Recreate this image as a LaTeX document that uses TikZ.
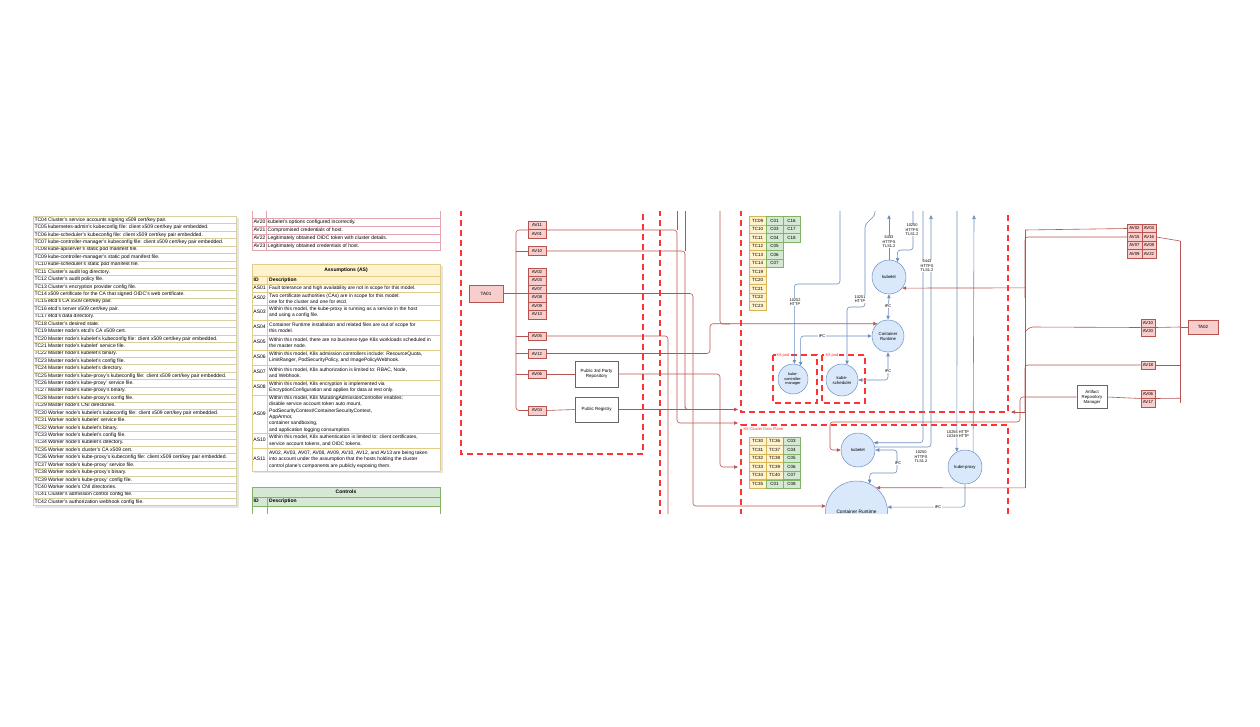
\documentclass[tikz,border=0pt]{standalone}
\usepackage{fontspec}
\setmainfont{Liberation Sans}
\usetikzlibrary{arrows.meta}
\definecolor{rfill}{HTML}{F8CECC}
\definecolor{rdraw}{HTML}{B85450}
\definecolor{bfill}{HTML}{DAE8FC}
\definecolor{bdraw}{HTML}{6C8EBF}
\definecolor{yfill}{HTML}{FFF2CC}
\definecolor{ydraw}{HTML}{D6B656}
\definecolor{gfill}{HTML}{D5E8D4}
\definecolor{gdraw}{HTML}{82B366}
\definecolor{dashred}{HTML}{FF3333}
\definecolor{tline}{HTML}{D8D0A0}
\definecolor{avline}{HTML}{E3A6AE}
\pgfdeclarelayer{bg}
\pgfdeclarelayer{fg}
\pgfsetlayers{bg,main,fg}
\begin{document}
\begin{tikzpicture}[x=1pt,y=-1pt,
  every node/.style={inner sep=0pt},
  tt/.style={anchor=west, font=\fontsize{5.05}{6}\selectfont, text height=3.6pt, text depth=1pt},
  ast/.style={anchor=west, align=left, font=\fontsize{4.95}{6.3}\selectfont},
  hd/.style={font=\bfseries\fontsize{5}{6}\selectfont, text height=3.6pt, text depth=1pt},
  avbox/.style={draw=rdraw, fill=rfill, line width=0.5pt, minimum width=18pt, minimum height=8.5pt, font=\fontsize{4.3}{5}\selectfont},
  avsq/.style={avbox, minimum width=14.5pt},
  tcbox/.style={draw=ydraw, fill=yfill, line width=0.4pt, minimum width=17pt, minimum height=8.5pt, font=\fontsize{4.5}{5}\selectfont},
  ccbox/.style={draw=gdraw, fill=gfill, line width=0.4pt, minimum width=17pt, minimum height=8.5pt, font=\fontsize{4.5}{5}\selectfont},
  comp/.style={circle, draw=bdraw, fill=bfill, line width=0.5pt, align=center, font=\fontsize{4.3}{5}\selectfont},
  gbox/.style={draw=black!60, fill=white, line width=0.6pt, align=center, font=\fontsize{4.5}{5.5}\selectfont, minimum width=43pt},
  wire/.style={draw=rdraw, line width=0.6pt, rounded corners=3pt},
  bwire/.style={draw=bdraw, line width=0.6pt, rounded corners=3pt},
  tip/.style={-{Triangle[length=4pt,width=3.4pt]}},
  tips/.style={{Triangle[length=4pt,width=3.4pt]}-{Triangle[length=4pt,width=3.4pt]}},
  bnd/.style={draw=dashred, line width=2pt, dash pattern=on 6pt off 4pt},
  elab/.style={fill=white, align=center, font=\fontsize{3.9}{4.4}\selectfont, inner sep=0.4pt},
  redlab/.style={text=dashred, fill=white, font=\fontsize{4}{4.6}\selectfont, inner sep=0.5pt}
]
\useasboundingbox (0,0) rectangle (1260,727);

% ================= left table =================
\fill[black!10] (236,218) rectangle (238.5,507.8);
\fill[black!10] (35,505.6) rectangle (238.5,507.8);
\fill[white] (33,216.3) rectangle (236,505.6);
\foreach \id/\txt [count=\i from 0] in {
 TC04/{Cluster's service accounts signing x509 cert/key pair.},
 TC05/{kubernetes-admin's kubeconfig file: client x509 cert/key pair embedded.},
 TC06/{kube-scheduler's kubeconfig file: client x509 cert/key pair embedded.},
 TC07/{kube-controller-manager's kubeconfig file: client x509 cert/key pair embedded.},
 TC08/{kube-apiserver's static pod manifest file.},
 TC09/{kube-controller-manager's static pod manifest file.},
 TC10/{kube-scheduler's static pod manifest file.},
 TC11/{Cluster's audit log directory.},
 TC12/{Cluster's audit policy file.},
 TC13/{Cluster's encryption provider config file.},
 TC14/{x509 certificate for the CA that signed OIDC's web certificate.},
 TC15/{etcd's CA x509 cert/key pair.},
 TC16/{etcd's server x509 cert/key pair.},
 TC17/{etcd's data directory.},
 TC18/{Cluster's desired state.},
 TC19/{Master node's etcd's CA x509 cert.},
 TC20/{Master node's kubelet's kubeconfig file: client x509 cert/key pair embedded.},
 TC21/{Master node's kubelet' service file.},
 TC22/{Master node's kubelet's binary.},
 TC23/{Master node's kubelet's config file.},
 TC24/{Master node's kubelet's directory.},
 TC25/{Master node's kube-proxy's kubeconfig file: client x509 cert/key pair embedded.},
 TC26/{Master node's kube-proxy' service file.},
 TC27/{Master node's kube-proxy's binary.},
 TC28/{Master node's kube-proxy's config file.},
 TC29/{Master node's CNI directories.},
 TC30/{Worker node's kubelet's kubeconfig file: client x509 cert/key pair embedded.},
 TC31/{Worker node's kubelet' service file.},
 TC32/{Worker node's kubelet's binary.},
 TC33/{Worker node's kubelet's config file.},
 TC34/{Worker node's kubelet's directory.},
 TC35/{Worker node's cluster's CA x509 cert.},
 TC36/{Worker node's kube-proxy's kubeconfig file: client x509 cert/key pair embedded.},
 TC37/{Worker node's kube-proxy' service file.},
 TC38/{Worker node's kube-proxy's binary.},
 TC39/{Worker node's kube-proxy' config file.},
 TC40/{Worker node's CNI directories.},
 TC41/{Cluster's admission control config file.},
 TC42/{Cluster's authorization webhook config file.}}{
  \node[tt] (L\id) at (34.3,{220+7.42*\i}) {\id};
  \node[tt] (LD\id) at (47.8,{220+7.42*\i}) {\txt};
  \draw[tline, line width=0.5pt] (33,{216.3+7.42*\i}) -- (236,{216.3+7.42*\i});
}
\draw[tline, line width=0.5pt] (33,505.6) -- (236,505.6);
\draw[tline, line width=0.6pt] (33,216.3) -- (33,505.6) (236,216.3) -- (236,505.6);

% ================= AV table (middle top) =================
\fill[white] (252,211) rectangle (440,250.7);
\foreach \id/\txt [count=\i from 0] in {
 AV20/{kubelet's options configured incorrectly.},
 AV21/{Compromised credentials of host.},
 AV22/{Legitimately obtained OIDC token with cluster details.},
 AV23/{Legitimately obtained credentials of host.}}{
  \node[tt] (M\id) at (253.3,{222+8.2*\i}) {\id};
  \node[tt] (MD\id) at (267.5,{222+8.2*\i}) {\txt};
  \draw[avline, line width=0.5pt] (252,{226.1+8.2*\i}) -- (440,{226.1+8.2*\i});
}
\draw[avline, line width=0.5pt] (252,217.9) -- (440,217.9);
\draw[avline, line width=0.6pt] (252,211) -- (252,250.7) (440,211) -- (440,250.7) (266.2,211) -- (266.2,250.7);

% ================= Assumptions table =================
\fill[black!10] (440,266) rectangle (442.5,473);
\fill[black!10] (254,471) rectangle (442.5,473);
\fill[yfill] (252,264) rectangle (440,284);
\fill[white] (252,284) rectangle (440,471);
\foreach \yy in {264,276,284,292,305,320,335,350,365,380,395,433,448,471}
  \draw[ydraw!70, line width=0.5pt] (252,\yy) -- (440,\yy);
\draw[ydraw!70, line width=0.6pt] (252,264) -- (252,471) (440,264) -- (440,471) (267,276) -- (267,471);
\node[hd] (ashead) at (346,270) {Assumptions (AS)};
\node[hd, anchor=west] (asid) at (253.5,280) {ID};
\node[hd, anchor=west] (asdesc) at (269,280) {Description};
\foreach \id/\yy/\txt in {
 AS01/288/{Fault tolerance and high availability are not in scope for this model.},
 AS02/298.5/{Two certificate authorities (CAs) are in scope for this model:\\one for the cluster and one for etcd.},
 AS03/312.5/{Within this model, the kube-proxy is running as a service in the host\\and using a config file.},
 AS04/327.5/{Container Runtime installation and related files are out of scope for\\this model.},
 AS05/342.5/{Within this model, there are no business-type K8s workloads scheduled in\\the master node.},
 AS06/357.5/{Within this model, K8s admission controllers include: ResourceQuota,\\LimitRanger, PodSecurityPolicy, and ImagePolicyWebhook.},
 AS07/372.5/{Within this model, K8s authorization is limited to: RBAC, Node,\\and Webhook.},
 AS08/387.5/{Within this model, K8s encryption is implemented via\\EncryptionConfiguration and applies for data at rest only.},
 AS09/414/{Within this model, K8s MutatingAdmissionController enables:\\disable service account token auto mount,\\PodSecurityContext/ContainerSecurityContext,\\AppArmor,\\container sandboxing,\\and application logging consumption.},
 AS10/440.5/{Within this model, K8s authentication is limited to: client certificates,\\service account tokens, and OIDC tokens.},
 AS11/459.5/{AV02, AV03, AV07, AV08, AV09, AV10, AV12, and AV13 are being taken\\into account under the assumption that the hosts holding the cluster\\control plane's components are publicly exposing them.}}{
  \node[tt] (\id) at (253.2,\yy) {\id};
  \node[ast] (D\id) at (269,\yy) {\txt};
}

% ================= Controls table =================
\fill[gfill] (252,487) rectangle (440,506);
\fill[white] (252,506) rectangle (440,515);
\foreach \yy in {487,497,506}
  \draw[gdraw, line width=0.5pt] (252,\yy) -- (440,\yy);
\draw[gdraw, line width=0.6pt] (252,487) -- (252,515) (440,487) -- (440,515) (267,497) -- (267,515);
\node[hd] (chead) at (346,492) {Controls};
\node[hd, anchor=west] (cid) at (253.5,501.5) {ID};
\node[hd, anchor=west] (cdesc) at (269,501.5) {Description};

% ================= Diagram: nodes =================
\node[avbox, minimum width=34pt, minimum height=17pt, font=\fontsize{4.6}{5}\selectfont] (ta1) at (486,293.5) {TA01};
\node[avbox] (av11) at (537,225.5) {AV11};
\node[avbox] (av01) at (537,234) {AV01};
\node[avbox] (av10) at (537,251) {AV10};
\foreach \n [count=\k from 0] in {AV02,AV03,AV07,AV08,AV09,AV13}
  \node[avbox] (l\n) at (537,{272+8.5*\k}) {\n};
\node[avbox] (av05) at (537,336) {AV05};
\node[avbox] (av12) at (537,353.5) {AV12};
\node[avbox] (av06) at (537,374) {AV06};
\node[avbox] (av04) at (537,410.5) {AV04};
\node[gbox, minimum height=26pt] (p3) at (596.5,374) {Public 3rd Party\\Repository};
\node[gbox, minimum height=25pt] (preg) at (596.5,409.5) {Public Registry};

% TC / C tables (control plane)
\foreach \a [count=\k from 0] in {TC09,TC10,TC11,TC12,TC13,TC14,TC19,TC20,TC21,TC22,TC23}
  \node[tcbox] (u\a) at (757.5,{220.7+8.5*\k}) {\a};
\foreach \b [count=\k from 0] in {C01,C03,C04,C05,C06,C07}
  \node[ccbox] (u\b) at (774.5,{220.7+8.5*\k}) {\b};
\foreach \c [count=\k from 0] in {C16,C17,C18}
  \node[ccbox] (u\c) at (791.5,{220.7+8.5*\k}) {\c};
% data plane
\foreach \a/\b/\c [count=\k from 0] in {TC30/TC36/C03,TC31/TC37/C04,TC32/TC38/C05,TC33/TC39/C06,TC34/TC40/C07}{
  \node[tcbox] (w\a) at (757.5,{441+8.6*\k}) {\a};
  \node[tcbox] (w\b) at (774.5,{441+8.6*\k}) {\b};
  \node[ccbox] (w\c) at (791.5,{441+8.6*\k}) {\c};
}
\node[tcbox] (wTC35) at (757.5,484) {TC35};
\node[ccbox] (wC01) at (774.5,484) {C01};
\node[ccbox] (wC08) at (791.5,484) {C08};

% components
\node[comp, minimum size=34pt] (k1) at (889,277) {kubelet};
\node[comp, minimum size=32pt] (cr1) at (888,336) {Container\\Runtime};
\node[comp, minimum size=30pt, font=\fontsize{3.9}{4.6}\selectfont] (kcm) at (793,379) {kube-\\controller-\\manager};
\node[comp, minimum size=32pt] (ks) at (842,380) {kube-\\scheduler};
\node[comp, minimum size=34pt] (k2) at (858,450) {kubelet};
\node[comp, minimum size=34pt] (kp) at (965,467) {kube-proxy};
\node[comp, minimum size=62pt, font=\fontsize{4.8}{5.5}\selectfont] (cr2) at (856.5,512) {Container Runtime};

% right side
\node[avbox, minimum width=30pt, minimum height=14pt, font=\fontsize{4.5}{5}\selectfont] (ta2) at (1203,327) {TA02};
\foreach \a/\b [count=\k from 0] in {AV02/AV03,AV15/AV16,AV07/AV08,AV09/AV22}{
  \node[avsq] (r\a) at (1134.5,{228.5+8.5*\k}) {\a};
  \node[avsq] (r\b) at (1149,{228.5+8.5*\k}) {\b};
}
\node[avsq] (rAV10) at (1148,323) {AV10};
\node[avsq] (rAV20) at (1148,331.5) {AV20};
\node[avsq] (rAV18) at (1148,365) {AV18};
\node[gbox, minimum width=30pt, minimum height=23pt, font=\fontsize{4.3}{5}\selectfont] (arm) at (1092,397) {Artifact\\Repository\\Manager};
\node[avsq] (rAV06) at (1148,394) {AV06};
\node[avsq] (rAV17) at (1148,402.5) {AV17};

% labels on edges
\node[elab] (l6443a) at (889,242) {6443\\HTTPS\\TLS1.2};
\node[elab] (l10250a) at (912,230) {10250\\HTTPS\\TLS1.2};
\node[elab] (l10251) at (860,299) {10251\\HTTP};
\node[elab] (l10252) at (795,302) {10252\\HTTP};
\node[elab] (lipc1) at (888,306) {IPC};
\node[elab] (lipc2) at (822,336) {IPC};
\node[elab] (lipc3) at (888,371) {IPC};
\node[elab] (l6443b) at (927,266) {6443\\HTTPS\\TLS1.2};
\node[elab] (l10250b) at (921,457) {10250\\HTTPS\\TLS1.2};
\node[elab] (lkp) at (958,434) {10256 HTTP\\10249 HTTP};
\node[elab] (lipc4) at (898,463) {IPC};
\node[elab] (lipc5) at (938,507) {IPC};
\node[redlab] (pod1) at (783,355) {K8 pod};
\node[redlab] (pod2) at (832,355) {K8 pod};
\node[redlab, anchor=north west, fill=none] (dplab) at (743,427) {K8 Cluster Data Plane};

% ================= Diagram: connectors (background) =================
\begin{pgfonlayer}{bg}
% dashed boundaries
\draw[bnd] (461,200) -- (461,454) -- (643,454) -- (643,200);
\draw[bnd] (660,200) -- (660,525);
\draw[bnd] (741,200) -- (741,412) -- (1008,412) -- (1008,200);
\draw[bnd] (741,525) -- (741,425) -- (1008,425) -- (1008,525);
\draw[bnd] (773,355) rectangle (817,403);
\draw[bnd] (822,355) rectangle (865,403);

% left cluster bus
\draw[wire] (av11.south west) -| (516,330) |- (av04.west);
\draw[wire] (516,251) -- (av10.west);
\draw[wire] (ta1.east) -- (lAV07.south west);
\draw[wire] (516,336) -- (av05.west);
\draw[wire] (516,353.5) -- (av12.west);
\draw[wire] (516,374) -- (av06.west);
\draw[wire] (av06.east) -- (p3.west);
\draw[wire] (av04.east) -- (preg.west);
% to the right
\draw[wire, tip] (av11.south east) -| (677,330) |- (738,423);
\draw[wire] (av10.east) -| (685,405) |- (700,409.5);
\draw[wire, tip] (lAV07.south east) -| (693,400) |- (cr2.169);
\draw[wire] (av05.east) -| (668,525);
\draw[wire, tip] (av12.east) -| (710,340) |- (cr1.131);
\draw[wire] (720,200) |- (730,324);
\draw[wire, tip] (p3.east) -| (720,420) |- (738,467);
\draw[wire, tip] (preg.east) -- (738,409.5);
\draw[wire] (677,200) -- (677,229.75);
\draw[wire] (685,200) -- (685,251);

% control plane blue wires
\draw[bwire, tip] (k1.north) -- (889,215);
\draw[bwire, tip] (913,200) -- (913,250) -- (897.5,250) -- (k1.60);
\draw[bwire, tip] (875,200) -- (875,215) -- (865,225) -- (865,307) -- (847,307) -- (ks.72);
\draw[bwire, tip] (840,200) -- (840,284) -- (794.3,284) -- (kcm.85);
\draw[bwire, tips] (k1.south) -- (cr1.north);
\draw[bwire, tips] (cr1.west) -| (kcm.60);
\draw[bwire, tips] (cr1.south) |- (ks.east);
\draw[bwire, tip] (923,200) |- (k2.25);
\draw[bwire, tip] (k2.10) -| (931,215);
\draw[bwire, tip] (957,200) -- (kp.118);
\draw[bwire, tip] (kp.62) -- (974,215);
\draw[bwire, tips] (k2.east) -- (897,450) -- (897,473) -- (869.6,473) -- (cr2.65);
\draw[bwire, tip] (kp.south) |- (cr2.9);

% red wires from right side
\draw[wire, tip] (1025,287.9) -- (k1.-40);
\draw[wire, tip] (1025,412) -- (1011,412);
\draw[wire, tip] (1020,400) |- (830,422) |- (k2.west);
\draw[wire, tip] (1025,487.9) -- (cr2.51);

% right cluster
\draw[wire] (ta2.west) -- (1180,327);
\draw[wire] (1180,241) -- (1180,402.5);
\draw[wire] (1180,241) -- (rAV16.east);
\draw[wire] (rAV15.west) -| (1025,300) |- (1025,287.9);
\draw[wire] (1180,327) -- (rAV10.south east);
\draw[wire] (rAV10.south west) -- (1030,327) -- (1025,332);
\draw[wire] (1180,365) -- (rAV18.east);
\draw[wire] (rAV18.west) -| (1025,412);
\draw[wire] (1180,398.25) -- (rAV06.south east);
\draw[wire] (rAV06.south west) -- (arm.east);
\draw[wire] (arm.west) -| (1020,400);
\draw[wire] (1025,230) -- (rAV02.west);
\draw[wire] (1025,230) -- (1025,487.9);
\end{pgfonlayer}

% masks
\begin{pgfonlayer}{fg}
\fill[white] (-5,-5) rectangle (1265,211.5);
\fill[white] (-5,513.5) rectangle (1265,732);
\end{pgfonlayer}
\end{tikzpicture}
\end{document}
